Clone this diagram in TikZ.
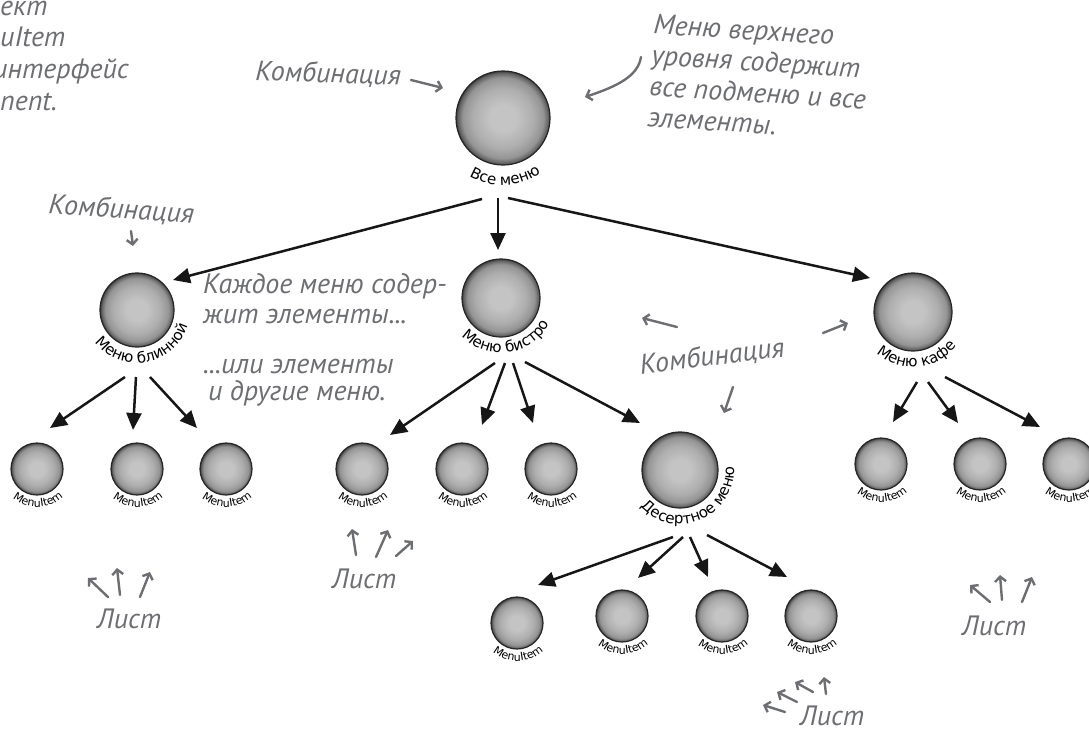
\documentclass[tikz,border=0pt]{standalone}
\usepackage{fontspec}
\setmainfont{PT Sans}
\newfontfamily\annfam{PT Sans}
\newfontfamily\lblfam{DejaVu Sans}
\usetikzlibrary{decorations.text,arrows.meta}
\definecolor{anncol}{HTML}{6D6E71}
\definecolor{arrcol}{HTML}{161616}
\definecolor{sphA}{HTML}{C4C4C4}
\definecolor{sphB}{HTML}{AEAEAE}
\definecolor{sphC}{HTML}{949494}
\definecolor{sphD}{HTML}{626262}
\definecolor{sphE}{HTML}{2A2A2A}
\pgfdeclareradialshading{sphere}{\pgfpoint{0bp}{0bp}}{color(0bp)=(sphA); color(7bp)=(sphA); color(16bp)=(sphB); color(21.5bp)=(sphC); color(24bp)=(sphD); color(25.5bp)=(sphE); color(50bp)=(sphE)}
\newcommand\annfont{\annfam\itshape\fontsize{28}{31}\selectfont}
\newcommand\lblbig{\lblfam\fontsize{15}{15}\selectfont}
\newcommand\lblsmall{\lblfam\fontsize{11}{11}\selectfont}
\tikzset{
  ball/.style={circle, draw=black!85, line width=1.2pt, shading=sphere, inner sep=0pt, minimum size=#1},
  treearr/.style={draw=arrcol, line width=2.5pt, -{Triangle[length=17pt,width=15pt]}},
  annarr/.style={draw=anncol, line width=2.4pt, line cap=round, line join=round, -{Straight Barb[length=5pt,width=11pt]}},
  ann/.style={text=anncol, font=\annfont, inner sep=0pt, align=left},
}
% #1 node, #2 radius, #3 centre angle, #4 half span, #5 font, #6 text
\newcommand\circlbl[6]{%
  \path[decorate, decoration={text along path, text align=center, text={|#5|#6}}]
    ([shift={(#3-#4:#2)}]#1.center) arc[start angle=#3-#4, end angle=#3+#4, radius=#2];}
\begin{document}
\begin{tikzpicture}[x=1pt,y=1pt]
\useasboundingbox (0,0) rectangle (1089,-728);
\clip (0,0) rectangle (1089,-728);

% ---------- composite nodes ----------
\node[ball=94] (top)  at (503,-118) {};
\node[ball=74] (blin) at (137,-310) {};
\node[ball=78] (bist) at (501,-298) {};
\node[ball=78] (kafe) at (913,-312) {};
\node[ball=76] (dess) at (680,-470) {};
% ---------- leaves ----------
\node[ball=52] (b1) at (37,-469) {};
\node[ball=52] (b2) at (137,-469) {};
\node[ball=52] (b3) at (226,-469) {};
\node[ball=52] (s1) at (362,-469) {};
\node[ball=52] (s2) at (462,-469) {};
\node[ball=52] (s3) at (551,-469) {};
\node[ball=52] (d1) at (517,-623) {};
\node[ball=52] (d2) at (622,-616) {};
\node[ball=52] (d3) at (722,-616) {};
\node[ball=52] (d4) at (811,-616) {};
\node[ball=52] (k1) at (881,-464) {};
\node[ball=52] (k2) at (980,-464) {};
\node[ball=52] (k3) at (1069,-464) {};

% ---------- curved labels ----------
\circlbl{top}{67}{272}{80}{\lblbig}{Все меню}
\circlbl{blin}{53}{280}{85}{\lblbig}{Меню блинной}
\circlbl{bist}{55}{278}{85}{\lblbig}{Меню бистро}
\circlbl{kafe}{55}{275}{85}{\lblbig}{Меню кафе}
\circlbl{dess}{54}{293}{95}{\lblbig}{Десертное меню}
\foreach \n in {b1,b2,b3,s1,s2,s3,d1,d2,d3,d4,k1,k2,k3}{
  \circlbl{\n}{38}{272}{80}{\lblsmall}{MenuItem}
}

% ---------- tree connectors ----------
\draw[treearr] ([shift={(-21,-81)}]top.center) -- ([shift={(36,30)}]blin.center);
\draw[treearr] ([shift={(-5,-80)}]top.center) -- ([shift={(-3,48)}]bist.center);
\draw[treearr] ([shift={(5,-80)}]top.center) -- ([shift={(-43,34)}]kafe.center);
\draw[treearr] ([shift={(-12,-67)}]blin.center) -- ([shift={(13,41)}]b1.center);
\draw[treearr] ([shift={(-1,-67)}]blin.center) -- ([shift={(-4,39)}]b2.center);
\draw[treearr] ([shift={(13,-67)}]blin.center) -- ([shift={(-29,41)}]b3.center);
\draw[treearr] ([shift={(-6,-65)}]bist.center) -- ([shift={(28,34)}]s1.center);
\draw[treearr] ([shift={(4,-65)}]bist.center) -- ([shift={(20,44)}]s2.center);
\draw[treearr] ([shift={(12,-65)}]bist.center) -- ([shift={(-18,46)}]s3.center);
\draw[treearr] ([shift={(24,-64)}]bist.center) -- ([shift={(-40,47)}]dess.center);
\draw[treearr] ([shift={(-7,-67)}]dess.center) -- ([shift={(21,38)}]d1.center);
\draw[treearr] ([shift={(3,-67)}]dess.center) -- ([shift={(16,38)}]d2.center);
\draw[treearr] ([shift={(10,-67)}]dess.center) -- ([shift={(-14,39)}]d3.center);
\draw[treearr] ([shift={(27,-65)}]dess.center) -- ([shift={(-24,39)}]d4.center);
\draw[treearr] ([shift={(4,-70)}]kafe.center) -- ([shift={(12,42)}]k1.center);
\draw[treearr] ([shift={(15,-70)}]kafe.center) -- ([shift={(-22,41)}]k2.center);
\draw[treearr] ([shift={(32,-65)}]kafe.center) -- ([shift={(-29,37)}]k3.center);

% ---------- annotations ----------
\node[ann, anchor=base west] (tl1) at (0,-15) {ект};
\node[ann, anchor=base west] (tl2) at (0,-46) {uItem};
\node[ann, anchor=base west] (tl3) at (-7,-78) {интерфейс};
\node[ann, anchor=base west] (tl4) at (0,-110) {nent.};

\node[ann, anchor=base west, rotate=-2] (kombtop) at (255,-80) {Комбинация};
\coordinate (ka1) at (411,-80); \coordinate (ka2) at (443,-88);
\draw[annarr] (ka1) -- (ka2);

\node[ann, anchor=north west, rotate=-3.5] (topnote) at (654,-14)
  {Меню верхнего\\уровня содержит\\все подменю и все\\элементы.};
\coordinate (tn1) at (641,-57); \coordinate (tn2) at (585,-97);
\draw[annarr] (tn1) .. controls (638,-76) and (618,-86) .. (tn2);

\node[ann, anchor=base west, rotate=-4] (kombleft) at (48,-213) {Комбинация};
\coordinate (kl1) at (131,-231); \coordinate (kl2) at (133,-246);
\draw[annarr] (kl1) -- (kl2);

\node[ann, anchor=base west] (each1) at (203,-293) {Каждое меню содер-};
\node[ann, anchor=base west] (each2) at (203,-323) {жит элементы...};
\node[ann, anchor=base west] (each3) at (203,-373) {...или элементы};
\node[ann, anchor=base west] (each4) at (208,-400) {и другие меню.};

\node[ann, rotate=7] (kombmid) at (712,-357) {Комбинация};
\coordinate (km1) at (677,-327); \coordinate (km2) at (642,-318);
\coordinate (km3) at (823,-333); \coordinate (km4) at (848,-323);
\coordinate (km5) at (733,-387); \coordinate (km6) at (724,-413);
\draw[annarr] (km1) -- (km2);
\draw[annarr] (km3) -- (km4);
\draw[annarr] (km5) -- (km6);

% leaf labels
\node[ann, anchor=base west] (leaf1) at (97,-628) {Лист};
\coordinate (l1a) at (108,-597); \coordinate (l1b) at (88,-578);
\coordinate (l1c) at (120,-595); \coordinate (l1d) at (117,-568);
\coordinate (l1e) at (140,-597); \coordinate (l1f) at (150,-572);
\draw[annarr] (l1a) -- (l1b);
\draw[annarr] (l1c) -- (l1d);
\draw[annarr] (l1e) -- (l1f);

\node[ann, anchor=base west] (leaf2) at (332,-588) {Лист};
\coordinate (l2a) at (356,-555); \coordinate (l2b) at (352,-529);
\coordinate (l2c) at (376,-557); \coordinate (l2d) at (388,-530);
\coordinate (l2e) at (396,-556); \coordinate (l2f) at (413,-541);
\draw[annarr] (l2a) -- (l2b);
\draw[annarr] (l2c) -- (l2d);
\draw[annarr] (l2e) -- (l2f);

\node[ann, anchor=base west] (leaf3) at (800,-725) {Лист};
\coordinate (l3a) at (785,-712); \coordinate (l3b) at (763,-705);
\coordinate (l3c) at (797,-702); \coordinate (l3d) at (777,-692);
\coordinate (l3e) at (813,-692); \coordinate (l3f) at (795,-682);
\coordinate (l3g) at (826,-694); \coordinate (l3h) at (824,-677);
\draw[annarr] (l3a) -- (l3b);
\draw[annarr] (l3c) -- (l3d);
\draw[annarr] (l3e) -- (l3f);
\draw[annarr] (l3g) -- (l3h);

\node[ann, anchor=base west] (leaf4) at (962,-635) {Лист};
\coordinate (l4a) at (990,-602); \coordinate (l4b) at (970,-585);
\coordinate (l4c) at (1002,-600); \coordinate (l4d) at (1000,-575);
\coordinate (l4e) at (1022,-602); \coordinate (l4f) at (1032,-577);
\draw[annarr] (l4a) -- (l4b);
\draw[annarr] (l4c) -- (l4d);
\draw[annarr] (l4e) -- (l4f);
\end{tikzpicture}
\end{document}
